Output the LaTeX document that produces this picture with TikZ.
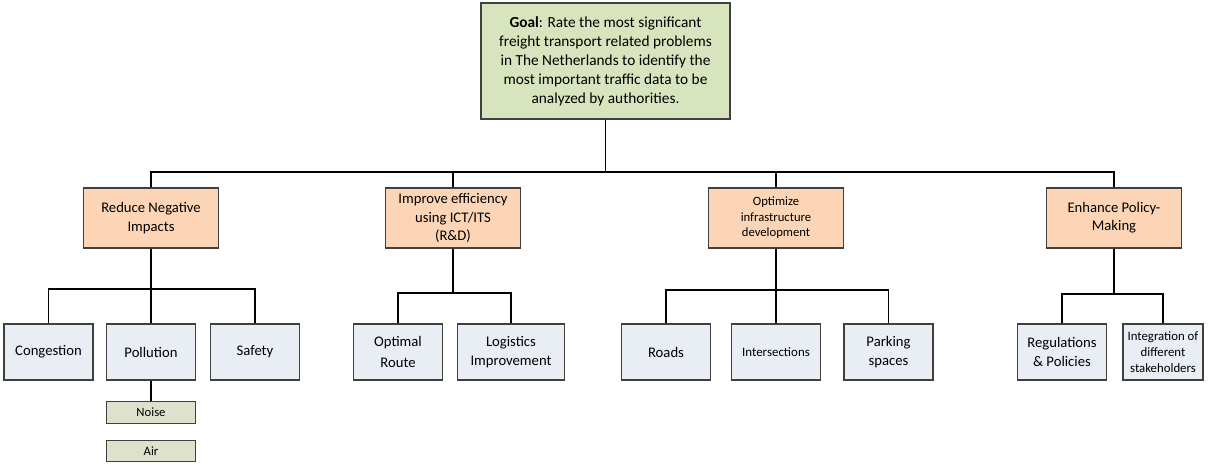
\documentclass[tikz,border=0pt]{standalone}
\usepackage{fontspec}
\setmainfont{Carlito}
\usepackage{tikz}

\definecolor{goalgreen}{RGB}{215,228,189}
\definecolor{aimorange}{RGB}{251,213,181}
\definecolor{subblue}{RGB}{233,237,244}
\definecolor{leafgreen}{RGB}{221,226,205}
\definecolor{boxline}{RGB}{64,64,64}

\begin{document}
\begin{tikzpicture}[x=0.75pt,y=-0.75pt]
    \tikzstyle{box}=[draw=boxline, line width=0.8pt, align=center, inner sep=1pt]
    \tikzstyle{goalbox}=[box, fill=goalgreen, minimum width=186.75pt, minimum height=87pt, font=\fontsize{11.5}{14.3}\selectfont]
    \tikzstyle{aimbox}=[box, fill=aimorange, minimum width=101.25pt, minimum height=45pt, font=\fontsize{11}{13.7}\selectfont]
    \tikzstyle{subbox}=[box, fill=subblue, minimum width=66.75pt, minimum height=42pt, font=\fontsize{11}{13.7}\selectfont]
    \tikzstyle{leafbox}=[box, fill=leafgreen, minimum width=66.75pt, minimum height=16pt, font=\fontsize{9.5}{11}\selectfont]
    \tikzstyle{link}=[draw=black, line width=0.9pt]

    \useasboundingbox (0,0) rectangle (1210,464);

    \node[goalbox] (goal) at (605.5,61) {\textbf{Goal}: Rate the most significant\\freight transport related problems\\in The Netherlands to identify the\\most important traffic data to be\\analyzed by authorities.};

    % first level
    \node[aimbox] (reduce) at (151,218) {Reduce Negative\\Impacts};
    \node[aimbox] (improve) at (453,218) {Improve efficiency\\using ICT/ITS\\(R\&D)};
    \node[aimbox, font=\fontsize{9.5}{11.6}\selectfont] (optimize) at (776,218) {Optimize\\infrastructure\\development};
    \node[aimbox] (enhance) at (1114,218) {Enhance Policy-\\Making};

    % second level
    \node[subbox] (congestion) at (48.5,352) {Congestion};
    \node[subbox] (pollution) at (151,352) {Pollution};
    \node[subbox] (safety) at (255,352) {Safety};
    \node[subbox, font=\fontsize{11}{16}\selectfont] (route) at (398,352) {Optimal\\Route};
    \node[subbox, minimum width=80.25pt] (logistics) at (511,352) {Logistics\\Improvement};
    \node[subbox] (roads) at (666,352) {Roads};
    \node[subbox, font=\fontsize{9.7}{11}\selectfont] (intersections) at (776,352) {Intersections};
    \node[subbox] (parking) at (888.5,352) {Parking\\spaces};
    \node[subbox] (regulations) at (1062,352) {Regulations\\\& Policies};
    \node[subbox, minimum width=60pt, font=\fontsize{9.6}{12}\selectfont] (integration) at (1163,352) {Integration of\\different\\stakeholders};

    \node[leafbox] (noise) at (151,412.5) {Noise};
    \node[leafbox] (air) at (151,451) {Air};

    % connectors
    \coordinate (goalbar) at (0,172);
    \coordinate (reducebar) at (0,289);
    \coordinate (improvebar) at (0,293);
    \coordinate (optimizebar) at (0,290);
    \coordinate (enhancebar) at (0,294);

    \foreach \c in {reduce,improve,optimize,enhance}
      {\draw[link] (goal.south) -- (goal.south |- goalbar) -| (\c.north);}
    \foreach \c in {congestion,pollution,safety}
      {\draw[link] (reduce.south) -- (reduce.south |- reducebar) -| (\c.north);}
    \foreach \c in {route,logistics}
      {\draw[link] (improve.south) -- (improve.south |- improvebar) -| (\c.north);}
    \foreach \c in {roads,intersections,parking}
      {\draw[link] (optimize.south) -- (optimize.south |- optimizebar) -| (\c.north);}
    \foreach \c in {regulations,integration}
      {\draw[link] (enhance.south) -- (enhance.south |- enhancebar) -| (\c.north);}
    \draw[link] (pollution.south) -- (noise.north);
\end{tikzpicture}
\end{document}
